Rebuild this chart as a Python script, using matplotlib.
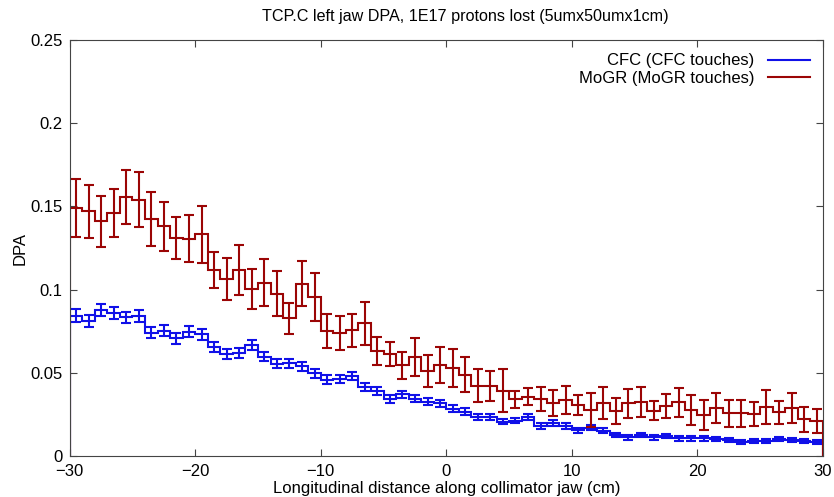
import matplotlib
matplotlib.use("Agg")
import matplotlib.pyplot as plt
import numpy as np

plt.rcParams['font.family'] = ['Liberation Sans', 'DejaVu Sans']

# 1 cm bins along the jaw, -30 .. 30 cm
edges = np.arange(-30, 31, 1)
centers = edges[:-1] + 0.5

cfc = [0.0843, 0.0813, 0.0877, 0.0857, 0.0833, 0.0843, 0.0741, 0.0753, 0.0707, 0.0747,
       0.0733, 0.0657, 0.0613, 0.0617, 0.0667, 0.0597, 0.0555, 0.0557, 0.0539, 0.0497,
       0.0459, 0.0461, 0.0481, 0.0417, 0.0390, 0.0343, 0.0370, 0.0345, 0.0327, 0.0318,
       0.0285, 0.0267, 0.0237, 0.0237, 0.0207, 0.0213, 0.0233, 0.0180, 0.0200, 0.0180,
       0.0156, 0.0170, 0.0152, 0.0126, 0.0112, 0.0126, 0.0112, 0.0120, 0.0106, 0.0106,
       0.0106, 0.0100, 0.0096, 0.0086, 0.0090, 0.0092, 0.0100, 0.0096, 0.0092, 0.0086]
cfc_err = [0.0038, 0.0037, 0.0038, 0.0036, 0.0035, 0.0036, 0.0033, 0.0034, 0.0032, 0.0033,
           0.0033, 0.0031, 0.0030, 0.0030, 0.0031, 0.0029, 0.0028, 0.0028, 0.0028, 0.0027,
           0.0025, 0.0025, 0.0026, 0.0024, 0.0023, 0.0022, 0.0023, 0.0022, 0.0021, 0.0021,
           0.0020, 0.0019, 0.0018, 0.0018, 0.0017, 0.0017, 0.0018, 0.0016, 0.0017, 0.0016,
           0.0015, 0.0016, 0.0015, 0.0014, 0.0013, 0.0014, 0.0013, 0.0014, 0.0013, 0.0013,
           0.0013, 0.0012, 0.0012, 0.0012, 0.0012, 0.0012, 0.0012, 0.0012, 0.0012, 0.0012]

mogr = [0.1490, 0.1470, 0.1410, 0.1460, 0.1555, 0.1540, 0.1424, 0.1380, 0.1310, 0.1306,
        0.1332, 0.1118, 0.1064, 0.1118, 0.1004, 0.1042, 0.0974, 0.0827, 0.1034, 0.0954,
        0.0750, 0.0740, 0.0755, 0.0797, 0.0633, 0.0614, 0.0544, 0.0593, 0.0509, 0.0547,
        0.0527, 0.0487, 0.0423, 0.0423, 0.0393, 0.0340, 0.0357, 0.0343, 0.0317, 0.0337,
        0.0307, 0.0276, 0.0317, 0.0272, 0.0317, 0.0323, 0.0272, 0.0302, 0.0323, 0.0276,
        0.0246, 0.0287, 0.0257, 0.0257, 0.0252, 0.0296, 0.0262, 0.0287, 0.0220, 0.0210]
mogr_err = [0.0175, 0.0160, 0.0153, 0.0142, 0.0163, 0.0165, 0.0162, 0.0147, 0.0126, 0.0141,
            0.0173, 0.0108, 0.0127, 0.0148, 0.0120, 0.0140, 0.0135, 0.0095, 0.0135, 0.0145,
            0.0103, 0.0103, 0.0099, 0.0130, 0.0085, 0.0073, 0.0083, 0.0115, 0.0095, 0.0110,
            0.0114, 0.0105, 0.0100, 0.0090, 0.0127, 0.0053, 0.0052, 0.0073, 0.0077, 0.0085,
            0.0060, 0.0100, 0.0095, 0.0077, 0.0088, 0.0090, 0.0057, 0.0072, 0.0088, 0.0090,
            0.0090, 0.0089, 0.0080, 0.0080, 0.0074, 0.0102, 0.0070, 0.0090, 0.0075, 0.0072]

blue = '#1010e8'
red = '#9b0505'

fig = plt.figure(figsize=(8.34, 4.97), dpi=100)
ax = fig.add_axes([0.0836, 0.0825, 0.9032, 0.837])

ax.stairs(cfc, edges, color=blue, linewidth=1.5)
ax.errorbar(centers, cfc, yerr=cfc_err, fmt='none', ecolor=blue, elinewidth=1.5,
            capsize=3.5, capthick=1.5)
ax.stairs(mogr, edges, color=red, linewidth=1.5)
ax.errorbar(centers, mogr, yerr=mogr_err, fmt='none', ecolor=red, elinewidth=1.5,
            capsize=3.5, capthick=1.5)

h1, = ax.plot([], [], color=blue, linewidth=1.5, label='CFC (CFC touches)')
h2, = ax.plot([], [], color=red, linewidth=1.5, label='MoGR (MoGR touches)')
ax.legend(handles=[h1, h2], loc='upper right', frameon=False, markerfirst=False,
          fontsize=12, handlelength=2.5, handletextpad=0.8, labelspacing=0.15,
          borderaxespad=0.4)

ax.set_xlim(-30, 30)
ax.set_ylim(0, 0.25)
ax.set_xticks([-30, -20, -10, 0, 10, 20, 30])
ax.set_yticks([0, 0.05, 0.1, 0.15, 0.2, 0.25])
ax.set_yticklabels(['0', '0.05', '0.1', '0.15', '0.2', '0.25'])
ax.tick_params(direction='in', top=True, right=True, length=5, labelsize=12,
               color='#444444')
ax.tick_params(axis='x', pad=6)
ax.tick_params(axis='y', pad=5)
for s in ax.spines.values():
    s.set_color('#444444')

ax.set_title('TCP.C left jaw DPA, 1E17 protons lost (5umx50umx1cm)', fontsize=11.6,
             pad=14, x=0.525)
ax.set_xlabel('Longitudinal distance along collimator jaw (cm)', fontsize=12, labelpad=1)
ax.set_ylabel('DPA', fontsize=12, labelpad=2)

fig.savefig('out.png', dpi=100)
